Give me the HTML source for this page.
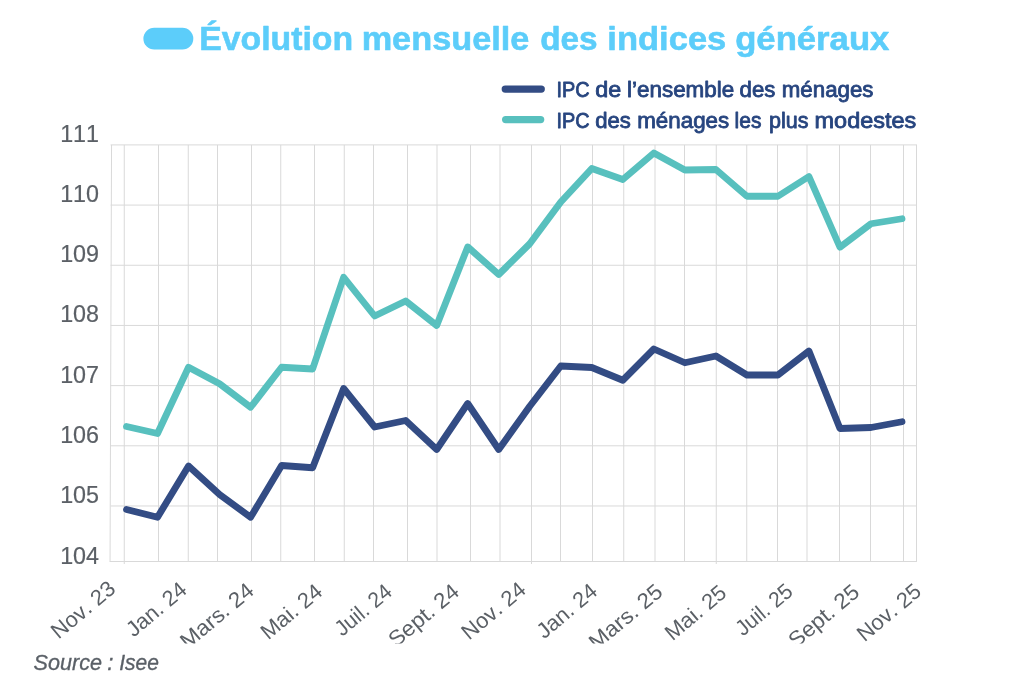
<!DOCTYPE html>
<html lang="fr"><head><meta charset="utf-8"><title>Évolution mensuelle des indices généraux</title>
<style>
html,body{margin:0;padding:0;background:#fff;}
svg{display:block;font-family:"Liberation Sans",sans-serif;font-kerning:none;}
.t{font-weight:700;font-size:33.5px;fill:#5ccdfa;stroke:#5ccdfa;stroke-width:.6px;stroke-linejoin:round;}
.lg{font-size:21.4px;fill:#27457f;stroke:#27457f;stroke-width:.8px;stroke-linejoin:round;}
.ax{font-size:23.3px;fill:#5b6066;stroke:#5b6066;stroke-width:.2px;}
.xl{font-size:21.8px;stroke:none;}
.src{font-size:22.3px;font-style:italic;fill:#5a6067;stroke:#5a6067;stroke-width:.3px;}
</style></head><body>
<svg width="1012" height="688" viewBox="0 0 1012 688">
<rect width="1012" height="688" fill="#fff"/>
<rect x="143.4" y="27.85" width="49.9" height="21.7" rx="10.85" fill="#5ccdfa"/>
<text class="t" y="49.5"><tspan x="199.26" textLength="153.89" lengthAdjust="spacingAndGlyphs">Évolution</tspan> <tspan x="361.65" textLength="167.68" lengthAdjust="spacingAndGlyphs">mensuelle</tspan> <tspan x="540.19" textLength="57.45" lengthAdjust="spacingAndGlyphs">des</tspan> <tspan x="607.34" textLength="118.98" lengthAdjust="spacingAndGlyphs">indices</tspan> <tspan x="735.18" textLength="154.22" lengthAdjust="spacingAndGlyphs">généraux</tspan></text>
<g fill="none" stroke="#d9d9d9" stroke-width="1">
<line x1="111.55" y1="144.9" x2="110.05" y2="561.5"/>
<line x1="124.25" y1="144.9" x2="124.25" y2="561.5"/>
<line x1="158.5" y1="144.9" x2="158.5" y2="561.5"/>
<line x1="188.25" y1="144.9" x2="188.25" y2="561.5"/>
<line x1="217.5" y1="144.9" x2="217.5" y2="561.5"/>
<line x1="251.5" y1="144.9" x2="251.5" y2="561.5"/>
<line x1="280.75" y1="144.9" x2="280.75" y2="561.5"/>
<line x1="314.5" y1="144.9" x2="314.5" y2="561.5"/>
<line x1="344.25" y1="144.9" x2="344.25" y2="561.5"/>
<line x1="373.5" y1="144.9" x2="373.5" y2="561.5"/>
<line x1="407.5" y1="144.9" x2="407.5" y2="561.5"/>
<line x1="437" y1="144.9" x2="437" y2="561.5"/>
<line x1="470.5" y1="144.9" x2="470.5" y2="561.5"/>
<line x1="500" y1="144.9" x2="500" y2="561.5"/>
<line x1="531.5" y1="144.9" x2="531.5" y2="561.5"/>
<line x1="560.5" y1="144.9" x2="560.5" y2="561.5"/>
<line x1="592.5" y1="144.9" x2="592.5" y2="561.5"/>
<line x1="623.75" y1="144.9" x2="623.75" y2="561.5"/>
<line x1="655" y1="144.9" x2="655" y2="561.5"/>
<line x1="684.5" y1="144.9" x2="684.5" y2="561.5"/>
<line x1="716.25" y1="144.9" x2="716.25" y2="561.5"/>
<line x1="746.75" y1="144.9" x2="746.75" y2="561.5"/>
<line x1="777.5" y1="144.9" x2="777.5" y2="561.5"/>
<line x1="807" y1="144.9" x2="807" y2="561.5"/>
<line x1="839.5" y1="144.9" x2="839.5" y2="561.5"/>
<line x1="870.5" y1="144.9" x2="870.5" y2="561.5"/>
<line x1="903.5" y1="144.9" x2="903.5" y2="561.5"/>
<line x1="916.5" y1="144.9" x2="916.5" y2="561.5"/>
<line x1="110.6" y1="144.90" x2="917.0" y2="144.90"/>
<line x1="110.6" y1="205.08" x2="917.0" y2="205.08"/>
<line x1="110.6" y1="265.26" x2="917.0" y2="265.26"/>
<line x1="110.6" y1="325.44" x2="917.0" y2="325.44"/>
<line x1="110.6" y1="385.62" x2="917.0" y2="385.62"/>
<line x1="110.6" y1="445.80" x2="917.0" y2="445.80"/>
<line x1="110.6" y1="505.98" x2="917.0" y2="505.98"/>
<line x1="109.6" y1="561.50" x2="917.0" y2="561.50"/>
<line x1="124.25" y1="561.5" x2="124.25" y2="564.0"/>
<line x1="531.5" y1="561.5" x2="531.5" y2="564.0"/>
<line x1="716.25" y1="561.5" x2="716.25" y2="564.0"/>
</g>
<polyline points="126.50,426.50 157.52,433.50 188.54,367.25 219.56,383.75 250.58,407.25 281.60,367.25 312.62,369.00 343.64,277.25 374.66,316.00 405.68,301.00 436.70,325.50 467.72,246.90 498.74,274.50 529.76,243.75 560.78,202.00 591.80,168.50 622.82,179.50 653.84,153.00 684.86,170.00 715.88,169.50 746.90,196.25 777.92,196.25 808.94,176.50 839.96,247.25 870.98,223.75 902.00,218.75" fill="none" stroke="#58c0be" stroke-width="6.8" stroke-linejoin="round" stroke-linecap="round"/>
<polyline points="126.50,509.50 157.52,517.25 188.54,466.00 219.56,494.50 250.58,517.25 281.60,465.50 312.62,467.75 343.64,388.50 374.66,427.00 405.68,420.50 436.70,449.50 467.72,403.50 498.74,449.50 529.76,406.25 560.78,366.00 591.80,367.50 622.82,380.25 653.84,349.00 684.86,362.75 715.88,356.00 746.90,375.00 777.92,375.00 808.94,351.00 839.96,428.50 870.98,427.50 902.00,421.75" fill="none" stroke="#334c84" stroke-width="6.8" stroke-linejoin="round" stroke-linecap="round"/>
<line x1="505.3" y1="89.1" x2="541.2" y2="89.1" stroke="#334c84" stroke-width="7.4" stroke-linecap="round"/>
<line x1="505.7" y1="119.6" x2="540.6" y2="119.6" stroke="#58c0be" stroke-width="7.4" stroke-linecap="round"/>
<text class="lg" y="97.2"><tspan x="556.54" textLength="33.13" lengthAdjust="spacingAndGlyphs">IPC</tspan> <tspan x="595.19" textLength="26.03" lengthAdjust="spacingAndGlyphs">de</tspan> <tspan x="626.99" textLength="107.27" lengthAdjust="spacingAndGlyphs">l’ensemble</tspan> <tspan x="739.59" textLength="35.82" lengthAdjust="spacingAndGlyphs">des</tspan> <tspan x="781.78" textLength="91.72" lengthAdjust="spacingAndGlyphs">ménages</tspan></text>
<text class="lg" y="128.3"><tspan x="556.54" textLength="33.13" lengthAdjust="spacingAndGlyphs">IPC</tspan> <tspan x="595.2" textLength="35.68" lengthAdjust="spacingAndGlyphs">des</tspan> <tspan x="637.19" textLength="92.05" lengthAdjust="spacingAndGlyphs">ménages</tspan> <tspan x="734.53" textLength="26.90" lengthAdjust="spacingAndGlyphs">les</tspan> <tspan x="768.98" textLength="39.50" lengthAdjust="spacingAndGlyphs">plus</tspan> <tspan x="814.57" textLength="101.76" lengthAdjust="spacingAndGlyphs">modestes</tspan></text>
<text class="ax" x="99.0" y="142.1" text-anchor="end">111</text>
<text class="ax" x="99.0" y="202.2" text-anchor="end">110</text>
<text class="ax" x="99.0" y="262.3" text-anchor="end">109</text>
<text class="ax" x="99.0" y="322.4" text-anchor="end">108</text>
<text class="ax" x="99.0" y="382.5" text-anchor="end">107</text>
<text class="ax" x="99.0" y="442.6" text-anchor="end">106</text>
<text class="ax" x="99.0" y="502.7" text-anchor="end">105</text>
<text class="ax" x="99.0" y="564.0" text-anchor="end">104</text>
<clipPath id="c"><rect x="0" y="0" width="1012" height="643.5"/></clipPath>
<g clip-path="url(#c)">
<text class="ax xl" transform="translate(116.9,590.9) rotate(-40)" text-anchor="end" textLength="76.1" lengthAdjust="spacingAndGlyphs">Nov. 23</text>
<text class="ax xl" transform="translate(188.4,591.9) rotate(-40)" text-anchor="end" textLength="71.5" lengthAdjust="spacingAndGlyphs">Jan. 24</text>
<text class="ax xl" transform="translate(255.3,593.0) rotate(-40)" text-anchor="end" textLength="88.1" lengthAdjust="spacingAndGlyphs">Mars. 24</text>
<text class="ax xl" transform="translate(323.8,593.9) rotate(-40)" text-anchor="end" textLength="72.5" lengthAdjust="spacingAndGlyphs">Mai. 24</text>
<text class="ax xl" transform="translate(393.6,593.9) rotate(-40)" text-anchor="end" textLength="67.1" lengthAdjust="spacingAndGlyphs">Juil. 24</text>
<text class="ax xl" transform="translate(460.7,593.8) rotate(-40)" text-anchor="end" textLength="84.5" lengthAdjust="spacingAndGlyphs">Sept. 24</text>
<text class="ax xl" transform="translate(527.4,591.9) rotate(-40)" text-anchor="end" textLength="76.1" lengthAdjust="spacingAndGlyphs">Nov. 24</text>
<text class="ax xl" transform="translate(598.9,593.5) rotate(-40)" text-anchor="end" textLength="71.5" lengthAdjust="spacingAndGlyphs">Jan. 24</text>
<text class="ax xl" transform="translate(664.1,594.1) rotate(-40)" text-anchor="end" textLength="88.1" lengthAdjust="spacingAndGlyphs">Mars. 25</text>
<text class="ax xl" transform="translate(728.0,595.0) rotate(-40)" text-anchor="end" textLength="72.5" lengthAdjust="spacingAndGlyphs">Mai. 25</text>
<text class="ax xl" transform="translate(794.4,593.7) rotate(-40)" text-anchor="end" textLength="67.1" lengthAdjust="spacingAndGlyphs">Juil. 25</text>
<text class="ax xl" transform="translate(860.8,594.4) rotate(-40)" text-anchor="end" textLength="84.5" lengthAdjust="spacingAndGlyphs">Sept. 25</text>
<text class="ax xl" transform="translate(922.7,593.6) rotate(-40)" text-anchor="end" textLength="76.1" lengthAdjust="spacingAndGlyphs">Nov. 25</text>
</g>
<text class="src" y="669.8"><tspan x="33.58" textLength="68.54" lengthAdjust="spacingAndGlyphs">Source</tspan> <tspan x="107.2" textLength="6.20" lengthAdjust="spacingAndGlyphs">:</tspan> <tspan x="119.2" textLength="39.72" lengthAdjust="spacingAndGlyphs">Isee</tspan></text>
</svg></body></html>
